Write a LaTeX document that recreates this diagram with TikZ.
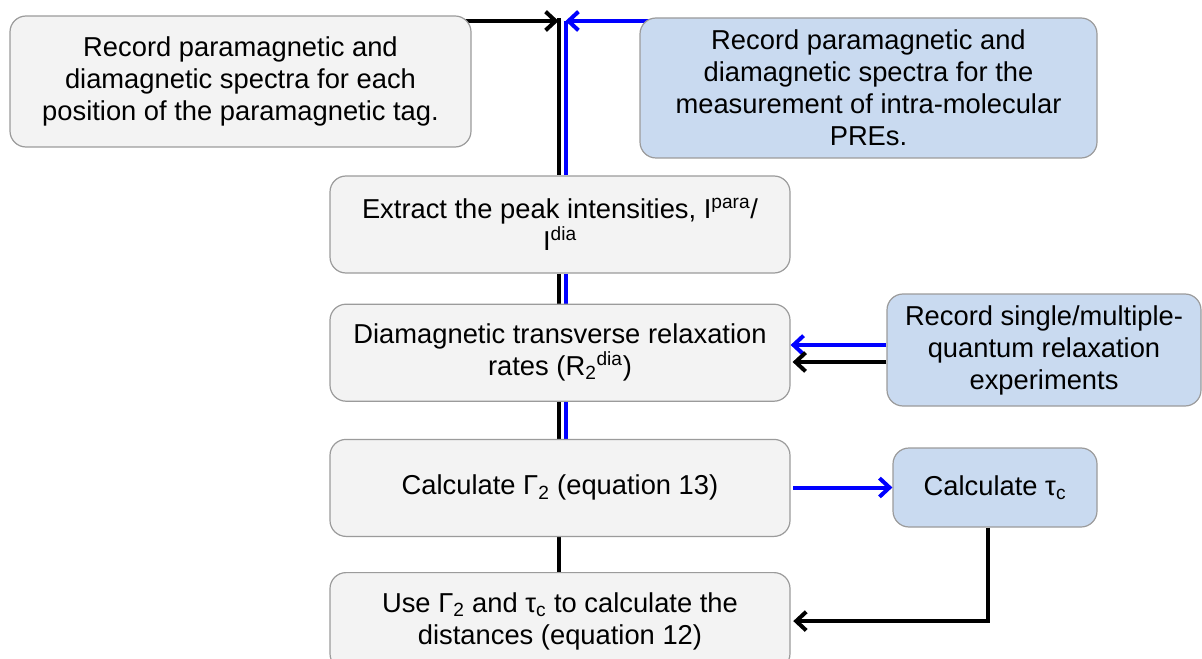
\documentclass[tikz,border=0pt]{standalone}
\usepackage{fontspec}
\setmainfont{Liberation Sans}
\usetikzlibrary{arrows.meta,positioning,calc,backgrounds}
\definecolor{edge}{RGB}{155,155,155}
\definecolor{pale}{RGB}{243,243,243}
\definecolor{sky}{RGB}{201,218,240}
\definecolor{pblue}{RGB}{0,0,255}
\tikzset{
  gbox/.style={draw=edge,line width=0.9pt,rounded corners=12pt,fill=pale,align=center,inner sep=4pt,font=\fontsize{20.5}{24}\selectfont},
  bbox/.style={gbox,fill=sky},
  colbox/.style={gbox,minimum width=345pt,minimum height=72.75pt},
  arr/.style={-{Straight Barb[length=7.5pt,width=14pt]},line width=3pt},
  link/.style={line width=3pt},
}

\begin{document}
\begin{tikzpicture}[x=0.75pt,y=-0.75pt]
  \useasboundingbox (0,0) rectangle (1202,659);

  % spectra to record
  \node[gbox,minimum width=345.75pt,minimum height=98.25pt] (lrec) at (240.5,81.5)
    {Record paramagnetic and\\ diamagnetic spectra for each\\ position of the paramagnetic tag.};
  \node[bbox,minimum width=342.75pt,minimum height=105pt] (rrec) at (868.5,88)
    {Record paramagnetic and\\ diamagnetic spectra for the\\ measurement of intra-molecular\\ PREs.};

  % main column
  \node[colbox] (ext) at (560,224.5)
    {Extract the peak intensities, I\textsuperscript{para}/\\ I\textsuperscript{dia}};
  \node[colbox,below=22.5pt of ext] (dia)
    {Diamagnetic transverse relaxation\\ rates (R\textsubscript{2}\textsuperscript{dia})};
  \node[colbox,below=27.75pt of dia] (gam)
    {Calculate Γ\textsubscript{2} (equation 13)};
  \node[colbox,below=26.25pt of gam] (use)
    {Use Γ\textsubscript{2} and τ\textsubscript{c} to calculate the\\ distances (equation 12)};

  % side boxes
  \node[bbox,minimum width=235.5pt,minimum height=84pt] (qrel) at (1044,350)
    {Record single/multiple-\\ quantum relaxation\\ experiments};
  \node[bbox,minimum width=153pt,minimum height=59.25pt] (tauc) at (995,487.5)
    {Calculate τ\textsubscript{c}};

  % connectors
  \begin{scope}[on background layer]
  \coordinate (jb) at (558.5,21);
  \coordinate (jl) at (565.5,21);
  \draw[arr] (lrec.center |- jb) -- (jb);
  \draw[arr,pblue] (rrec.center |- jl) -- (jl);
  \draw[link] ([yshift=2pt]jb) -- (ext.north -| jb);
  \draw[link,pblue] (jl) -- (ext.north -| jl);
  \draw[link] (ext.south -| jb) -- (dia.north -| jb);
  \draw[link,pblue] (ext.south -| jl) -- (dia.north -| jl);
  \draw[link] (dia.south -| jb) -- (gam.north -| jb);
  \draw[link,pblue] (dia.south -| jl) -- (gam.north -| jl);
  \draw[link] (gam.south -| jb) -- (use.north -| jb);
  \end{scope}
  \draw[arr,pblue] ([yshift=3.75pt]qrel.west) -- ([yshift=3.75pt]qrel.west -| dia.east);
  \draw[arr,shorten >=1.5pt] ([yshift=-9pt]qrel.west) -- ([yshift=-9pt]qrel.west -| dia.east);
  \draw[arr,pblue,shorten <=2pt] (tauc.west -| gam.east) -- (tauc.west);
  \draw[arr,shorten >=2pt] ([xshift=-5pt]tauc.south) |- (use.east);
\end{tikzpicture}
\end{document}
